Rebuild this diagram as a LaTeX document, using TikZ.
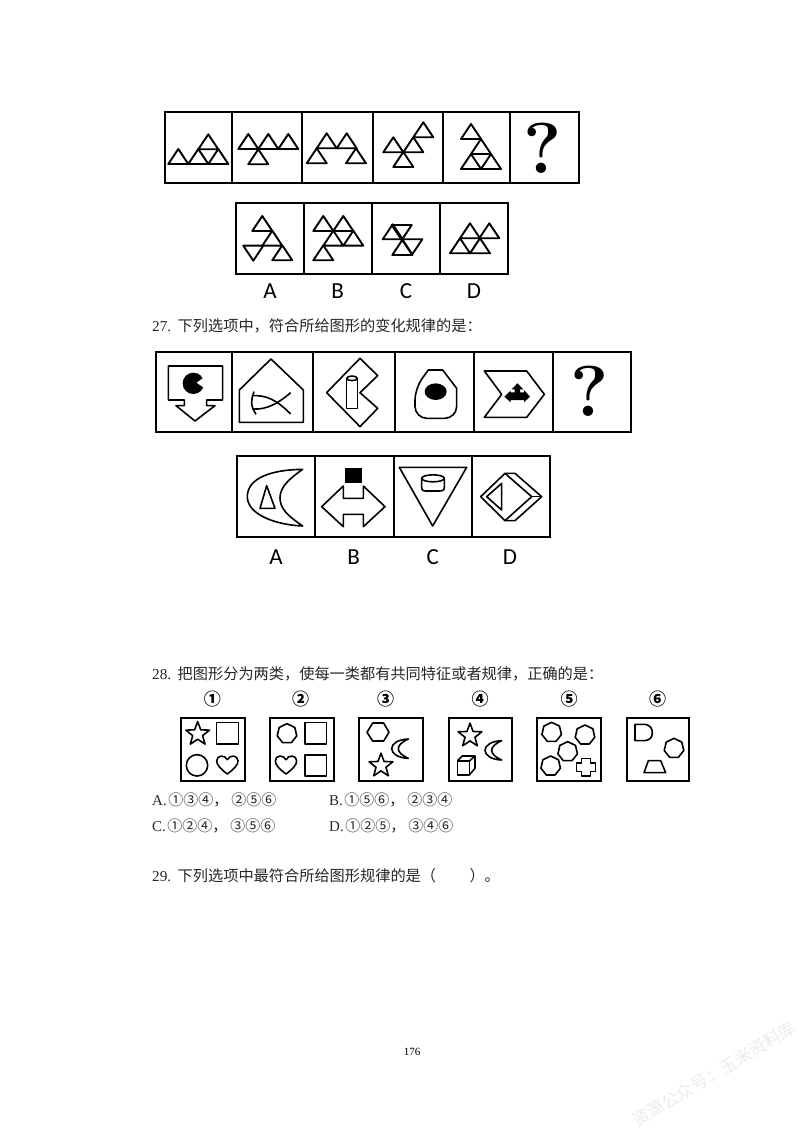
\documentclass[tikz,border=0pt]{standalone}
\usepackage{fontspec}
\usetikzlibrary{shapes.geometric}
\newfontfamily\cjkfont{Noto Sans CJK SC}
\newfontfamily\optfont{Carlito}
\newfontfamily\serfont{Liberation Serif}

\tikzset{
	frameline/.style={line width=2pt, line cap=rect},
	figline/.style={line width=1.9pt, line join=round},
	thinline/.style={line width=1.6pt, line join=round},
	optlabel/.style={font=\optfont\fontsize{23}{23}\selectfont, inner sep=0pt},
	asklabel/.style={font=\rmfamily\bfseries\fontsize{72}{72}\selectfont, inner sep=0pt},
	question/.style={font=\serfont\fontsize{15.2}{15.2}\selectfont, anchor=west, inner sep=0pt, text=black!85},
	answer/.style={font=\serfont\fontsize{15}{15}\selectfont, anchor=west, inner sep=0pt, text=black!85},
	circlabel/.style={font=\cjkfont\bfseries\fontsize{17}{17}\selectfont, inner sep=0pt},
	zoomed/.style={x=0.33333pt, y=-0.33333pt},
	starfig/.style={star, star points=5, star point ratio=2.4, minimum size=25pt, inner sep=0pt, draw, thinline},
	heptfig/.style={regular polygon, regular polygon sides=7, minimum size=20pt, inner sep=0pt, draw, thinline},
	uptri/.pic={\draw[figline] (0,0) -- (20,0) -- (10,-15) -- cycle;},
	downtri/.pic={\draw[figline] (0,0) -- (20,0) -- (10,15) -- cycle;},
	heartfig/.pic={\draw[thinline] (0,27) .. controls (-20,12) and (-32,0) .. (-32,-12) .. controls (-32,-30) and (-8,-32) .. (0,-16) .. controls (8,-32) and (32,-30) .. (32,-12) .. controls (32,0) and (20,12) .. (0,27) -- cycle;},
	moonfig/.pic={\draw[thinline] (20,-29) .. controls (-10,-28) and (-30,-15) .. (-30,0) .. controls (-30,15) and (-10,28) .. (20,29) .. controls (0,20) and (-10,10) .. (-10,0) .. controls (-10,-10) and (0,-20) .. (20,-29) -- cycle;},
}

\begin{document}
\begin{tikzpicture}[x=1pt, y=-1pt]
	\useasboundingbox (0,0) rectangle (800,1131);

	% first series
	\draw[frameline] (165,112) rectangle (579,183);
	\foreach \divx in {232,302,373,443,510}
		\draw[frameline] (\divx,112) -- (\divx,183);
	\foreach \tx/\ty in {168.3/164, 188.3/164, 208.3/164, 198.3/149.3,
			238.3/149, 258.3/149, 278.3/149, 248.3/164.3,
			306.7/163.3, 316.7/148.3, 336.7/148.3, 346/163.3,
			383.3/152.3, 403.3/152.3, 413.3/137.3, 393.3/167,
			461/139, 471/154, 461/169, 481/169}
		\pic at (\tx,\ty) {uptri};
	\node[asklabel] (ask1) at (543,148) {?};

	\draw[frameline] (235.7,203.5) rectangle (508.3,274);
	\foreach \divx in {304,372.3,440.3}
		\draw[frameline] (\divx,203.5) -- (\divx,274);
	\foreach \tx/\ty in {252.3/231, 262.3/245.7, 272.3/260.3,
			313.3/231, 333.3/231, 323.3/245.7, 343.3/245.7, 313.3/260.3,
			382.7/239.3, 392.3/255,
			460/238.3, 479.3/238.3, 450/253.3, 470/253.3}
		\pic at (\tx,\ty) {uptri};
	\foreach \tx/\ty in {243.3/245.7, 391.7/225, 402.3/239.3}
		\pic at (\tx,\ty) {downtri};
	\node[optlabel] (a1) at (270,291) {A};
	\node[optlabel] (b1) at (337.7,291) {B};
	\node[optlabel] (c1) at (406,291) {C};
	\node[optlabel] (d1) at (474,291) {D};

	\node[question] (q27) at (152,326) {27.\hspace{6.5pt}{\cjkfont 下列选项中，符合所给图形的变化规律的是：}};

	% second series
	\draw[frameline] (156,351.7) rectangle (631,432.3);
	\foreach \divx in {232.3,313,395,474.3,552.7}
		\draw[frameline] (\divx,351.7) -- (\divx,432.3);
	\draw[frameline] (237.3,455.7) rectangle (550,536.7);
	\foreach \divx in {315.3,394.3,472.3}
		\draw[frameline] (\divx,455.7) -- (\divx,536.7);

	\begin{scope}[shift={(150,345)}, zoomed]
		% arrow box
		\draw[thinline] (55,63) -- (218,63) -- (218,165) -- (170,165) -- (170,182) -- (195,182) -- (135,228) -- (78,182) -- (103,182) -- (103,165) -- (55,165) -- cycle;
		\fill (130,115) circle [radius=10.7pt];
		\fill[white] (140,113) -- (175,88) -- (175,138) -- cycle;
		% house and fish
		\draw[thinline] (268,232) -- (460,232) -- (460,135) -- (363,42) -- (268,135) -- cycle;
		\draw[thinline] (318,208) .. controls (300,180) and (303,165) .. (312,140);
		\draw[thinline] (307,152) .. controls (350,150) and (380,165) .. (422,207);
		\draw[thinline] (307,192) .. controls (350,195) and (385,175) .. (422,143);
		% notched diamond and cylinder
		\draw[thinline] (630,40) -- (683,92) -- (630,143) -- (683,190) -- (630,245) -- (530,143) -- cycle;
		\draw[thinline, fill=white] (590,100) -- (590,190) -- (622,190) -- (622,100);
		\draw[thinline, fill=white] (606,100) ellipse [x radius=5.3pt, y radius=2.3pt];
		% rounded block
		\draw[thinline, rounded corners=12pt] (795,220) -- (795,130) [sharp corners] -- (835,75) -- (878,75) -- (920,130) [rounded corners=12pt] -- (920,220) -- cycle;
		\fill (857,140) ellipse [x radius=11pt, y radius=8.3pt];
		% chevron and arrows
		\draw[thinline] (1003,78) -- (1130,78) -- (1183,148) -- (1130,217) -- (1003,217) -- (1055,148) -- cycle;
		\fill (1102,115) -- (1120,133) -- (1110,133) -- (1110,142) -- (1122,142) -- (1122,135) -- (1140,155) -- (1122,172) -- (1122,165) -- (1082,165) -- (1082,172) -- (1063,155) -- (1082,137) -- (1082,142) -- (1094,142) -- (1094,133) -- (1085,133) -- cycle;
		% crescent
		\draw[thinline] (458,373) .. controls (340,375) and (290,410) .. (292,458) .. controls (295,510) and (380,540) .. (458,543) .. controls (410,510) and (390,490) .. (390,458) .. controls (390,425) and (420,400) .. (458,373) -- cycle;
		\draw[thinline] (350,422) -- (375,490) -- (330,490) -- cycle;
		% square and double arrow
		\fill (585,368) rectangle (635,413);
		\draw[thinline] (580,423) -- (580,460) -- (640,460) -- (640,423) -- (705,485) -- (640,545) -- (640,508) -- (580,508) -- (580,545) -- (515,485) -- cycle;
		% triangle and cylinder
		\draw[thinline] (748,367) -- (950,367) -- (848,543) -- cycle;
		\draw[thinline] (849,400) ellipse [x radius=11.3pt, y radius=3.5pt];
		\draw[thinline] (815,400) -- (815,425) .. controls (815,438) and (820,438) .. (830,438) -- (868,438) .. controls (880,438) and (883,435) .. (883,425) -- (883,400);
		% faceted diamond
		\draw[thinline] (992,455) -- (1065,385) -- (1095,385) -- (1175,455) -- (1095,527) -- (1065,527) -- cycle;
		\draw[thinline] (1065,385) -- (1145,455) -- (1065,527);
		\draw[thinline] (1145,455) -- (1175,455);
		\draw[thinline] (1055,415) -- (1055,495) -- (1010,455) -- cycle;
	\end{scope}
	\node[asklabel] (ask2) at (589.3,391.7) {?};
	\node[optlabel] (a2) at (276,556.7) {A};
	\node[optlabel] (b2) at (353.7,556.7) {B};
	\node[optlabel] (c2) at (432.7,556.7) {C};
	\node[optlabel] (d2) at (510,556.7) {D};

	\node[question] (q28) at (152,674) {28.\hspace{6.5pt}{\cjkfont 把图形分为两类，使每一类都有共同特征或者规律，正确的是：}};

	% six squares
	\foreach \boxl/\boxr in {181/245, 270/334, 359/422.7, 449/511.7, 537.3/600.7, 626.7/689.3}
		\draw[frameline] (\boxl,717.7) rectangle (\boxr,780.7);
	\node[circlabel] (n1) at (212.3,699.3) {①};
	\node[circlabel] (n2) at (300.7,699.3) {②};
	\node[circlabel] (n3) at (385.7,699.3) {③};
	\node[circlabel] (n4) at (480,699.3) {④};
	\node[circlabel] (n5) at (569,699.3) {⑤};
	\node[circlabel] (n6) at (657.7,699.3) {⑥};

	\begin{scope}[shift={(175,690)}, zoomed]
		\node[starfig] (star1) at (68,132) {};
		\draw[thinline] (125,98) rectangle (190,162);
		\draw[thinline] (66,226) circle [radius=10.7pt];
		\pic at (157,225) {heartfig};
		\node[heptfig] (hept2) at (336,131) {};
		\draw[thinline] (390,98) rectangle (455,162);
		\pic at (333,225) {heartfig};
		\draw[thinline] (390,195) rectangle (455,258);
	\end{scope}
	\begin{scope}[shift={(355,690)}, zoomed]
		\draw[thinline] (36,127) -- (53,99) -- (86,99) -- (102,127) -- (86,153) -- (53,153) -- cycle;
		\pic at (140,176) {moonfig};
		\node[starfig] (star3) at (78,227) {};
		\node[starfig] (star4) at (345,137) {};
		\pic at (420,181) {moonfig};
		\draw[thinline] (307,213) rectangle (343,255);
		\draw[thinline] (307,213) -- (322,198) -- (360,198) -- (343,213);
		\draw[thinline] (360,198) -- (360,235) -- (343,255);
	\end{scope}
	\begin{scope}[shift={(530,690)}, zoomed]
		\node[heptfig] (hept5a) at (65,127) {};
		\node[heptfig] (hept5b) at (165,135) {};
		\node[heptfig] (hept5c) at (113,185) {};
		\node[heptfig] (hept5d) at (62,228) {};
		\draw[thinline] (155,205) -- (181,205) -- (181,219) -- (196,219) -- (196,245) -- (181,245) -- (181,258) -- (155,258) -- (155,245) -- (140,245) -- (140,219) -- (155,219) -- cycle;
		\draw[thinline] (315,103) -- (345,103) .. controls (360,105) and (367,115) .. (367,128) .. controls (367,142) and (360,150) .. (345,152) -- (315,152) -- cycle;
		\node[heptfig] (hept6) at (432,175) {};
		\draw[thinline] (355,212) -- (392,212) -- (407,248) -- (342,248) -- cycle;
	\end{scope}

	\node[answer] (opta) at (152,800) {A.\hspace{1.5pt}{\cjkfont ①③④，\hspace{3pt}②⑤⑥}};
	\node[answer] (optb) at (329,800) {B.\hspace{1.5pt}{\cjkfont ①⑤⑥，\hspace{3pt}②③④}};
	\node[answer] (optc) at (152,826) {C.\hspace{1.5pt}{\cjkfont ①②④，\hspace{3pt}③⑤⑥}};
	\node[answer] (optd) at (329,826) {D.\hspace{1.5pt}{\cjkfont ①②⑤，\hspace{3pt}③④⑥}};

	\node[question] (q29) at (152,876) {29.\hspace{6.5pt}{\cjkfont 下列选项中最符合所给图形规律的是（\hspace{2.2em}）。}};

	\node[font=\serfont\fontsize{11}{11}\selectfont, inner sep=0pt] (pageno) at (412,1052) {176};
	\node[font=\cjkfont\fontsize{17}{17}\selectfont, inner sep=0pt, text=black!8, rotate=31] (mark) at (714,1074) {资源公众号：玉米资料库};
\end{tikzpicture}
\end{document}
